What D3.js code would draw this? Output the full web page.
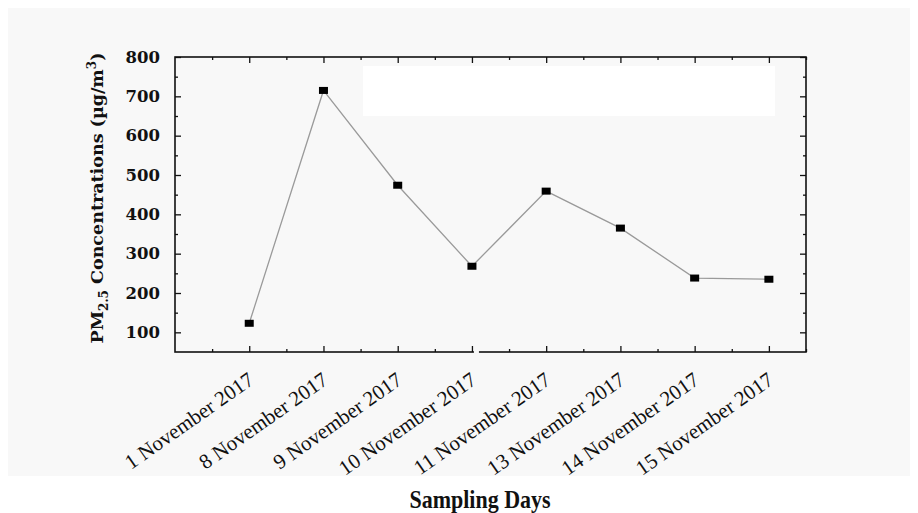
<!DOCTYPE html>
<html><head><meta charset="utf-8">
<script src="https://cdn.jsdelivr.net/npm/d3@7/dist/d3.min.js"></script>
<style>body{margin:0;background:#fff}svg{display:block}</style>
</head><body>
<svg id="c" width="918" height="513"></svg>
<script>
const categories = ["1 November 2017","8 November 2017","9 November 2017","10 November 2017","11 November 2017","13 November 2017","14 November 2017","15 November 2017"];
const values = [123, 715, 474, 268, 459, 365, 238, 235];
const yTicks = [100,200,300,400,500,600,700,800];
const yMinor = [150,250,350,450,550,650,750];

const svg = d3.select("#c");
const L=175, R=806, T=57, B=352;
svg.append("rect").attr("x",8).attr("y",8).attr("width",902).attr("height",468).attr("fill","#f8f8f8");
svg.append("rect").attr("x",363).attr("y",66).attr("width",412).attr("height",50).attr("fill","#ffffff");

const x = d3.scaleLinear().domain([0, categories.length + 0.5]).range([L, R]);
const y = d3.scaleLinear().domain([50, 800]).range([B, T]);
const idx = categories.map((d,i)=>i+1);
const xMinor = d3.range(0.5, categories.length + 0.51, 1);

function styleAxis(g){ g.select(".domain").remove(); g.selectAll(".tick line").attr("stroke","#111").attr("stroke-width",1.3); }

svg.append("g").attr("transform",`translate(0,${B})`).call(d3.axisBottom(x).tickValues(idx).tickSize(-6).tickFormat("")).call(styleAxis);
svg.append("g").attr("transform",`translate(0,${B})`).call(d3.axisBottom(x).tickValues(xMinor).tickSize(-3).tickFormat("")).call(styleAxis);
svg.append("g").attr("transform",`translate(0,${T})`).call(d3.axisTop(x).tickValues(idx).tickSize(-6).tickFormat("")).call(styleAxis);
svg.append("g").attr("transform",`translate(0,${T})`).call(d3.axisTop(x).tickValues(xMinor).tickSize(-3).tickFormat("")).call(styleAxis);
const yl = svg.append("g").attr("transform",`translate(${L},0)`).call(d3.axisLeft(y).tickValues(yTicks).tickSize(-6).tickPadding(15).tickFormat(d3.format("d"))).call(styleAxis);
yl.selectAll(".tick text").attr("font-family","DejaVu Serif").attr("font-weight","bold").attr("font-size",16.5).attr("fill","#111");
svg.append("g").attr("transform",`translate(${L},0)`).call(d3.axisLeft(y).tickValues(yMinor).tickSize(-3).tickFormat("")).call(styleAxis);
svg.append("g").attr("transform",`translate(${R},0)`).call(d3.axisRight(y).tickValues(yTicks).tickSize(-6).tickFormat("")).call(styleAxis);
svg.append("g").attr("transform",`translate(${R},0)`).call(d3.axisRight(y).tickValues(yMinor).tickSize(-3).tickFormat("")).call(styleAxis);

svg.append("rect").attr("x",L).attr("y",T).attr("width",R-L).attr("height",B-T).attr("fill","none").attr("stroke","#111").attr("stroke-width",1.6);
svg.append("rect").attr("x",x(4)+2).attr("y",B-2).attr("width",5).attr("height",4).attr("fill","#f8f8f8");

const line = d3.line().x((d,i)=>x(i+1)).y(d=>y(d));
svg.append("path").datum(values).attr("d",line).attr("fill","none").attr("stroke","#9a9a9a").attr("stroke-width",1.3);
svg.selectAll("rect.pt").data(values).join("rect").attr("class","pt")
  .attr("x",(d,i)=>x(i+1)-4.5).attr("y",d=>y(d)-3.5).attr("width",9).attr("height",7).attr("fill","#000");

svg.append("g").selectAll("text").data(categories).join("text")
  .attr("transform",(d,i)=>`translate(${x(i+1)+6},383) rotate(-35)`)
  .attr("text-anchor","end").attr("font-family","Liberation Serif").attr("font-size",21).attr("fill","#111")
  .text(d=>d);

svg.append("text").attr("transform","translate(480,508) scale(1,1.15)").attr("text-anchor","middle")
  .attr("font-family","Liberation Serif").attr("font-weight","bold").attr("font-size",22).attr("fill","#111").text("Sampling Days");

const yt = svg.append("text").attr("transform","translate(103,198) rotate(-90)").attr("text-anchor","middle")
  .attr("font-family","DejaVu Serif").attr("font-weight","bold").attr("font-size",17.5).attr("fill","#111");
yt.append("tspan").text("PM");
yt.append("tspan").attr("font-size",12).attr("dy",5).text("2.5");
yt.append("tspan").attr("dy",-5).text(" Concentrations (µg/m");
yt.append("tspan").attr("font-size",12).attr("dy",-7).text("3");
yt.append("tspan").attr("dy",7).text(")");
</script>
</body></html>
